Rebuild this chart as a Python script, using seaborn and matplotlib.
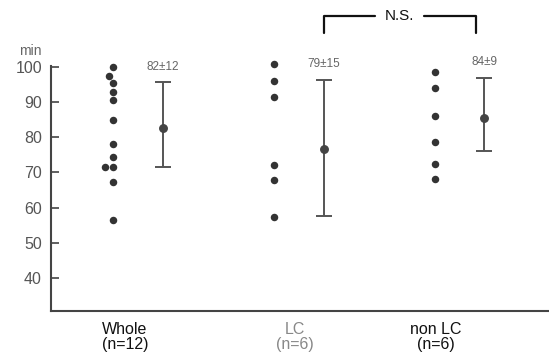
import numpy as np
import pandas as pd
import matplotlib
matplotlib.use("Agg")
import matplotlib.pyplot as plt
import seaborn as sns

# ---- data ----
groups = ["Whole", "LC", "non LC"]
group_labels = ["Whole\n(n=12)", "LC\n(n=6)", "non LC\n(n=6)"]
whole_vals = [100.0, 97.5, 95.6, 93.0, 90.8, 85.0, 78.0, 74.3, 71.6, 71.6, 67.3, 56.5]
lc_vals = [101.0, 96.2, 91.4, 72.0, 67.8, 57.2]
nonlc_vals = [98.6, 94.0, 86.0, 78.8, 72.5, 68.0]
means = [82.6, 76.7, 85.5]
err_low = [71.7, 57.5, 76.0]
err_high = [95.7, 96.5, 97.0]
summary_text = ["82\u00b112", "79\u00b115", "84\u00b19"]
y_ticks = [40, 50, 60, 70, 80, 90, 100]

df = pd.DataFrame({
    "group": ["Whole"] * len(whole_vals) + ["LC"] * len(lc_vals) + ["non LC"] * len(nonlc_vals),
    "minutes": whole_vals + lc_vals + nonlc_vals,
})

sns.set_style("ticks")
plt.rcParams["font.family"] = ["Liberation Sans", "DejaVu Sans"]

W, H = 549, 357
fig = plt.figure(figsize=(W / 100, H / 100), dpi=100)
ax = fig.add_axes([51 / W, 1 - 311 / H, (548 - 51) / W, (311 - 65.5) / H])

sns.swarmplot(data=df, x="group", y="minutes", order=groups, ax=ax,
              color="#333333", size=5.4, linewidth=0, clip_on=False)

off = 0.31
xpos = np.arange(len(groups)) + off
m = np.array(means)
yerr = [m - np.array(err_low), np.array(err_high) - m]
ax.errorbar(xpos, m, yerr=yerr, fmt="o", color="#444444", ecolor="#555555",
            markersize=5.4, elinewidth=1.4, capsize=6, capthick=1.4, clip_on=False)

for x, hi, t in zip(xpos, err_high, summary_text):
    ax.text(x, hi + 4.4, t, ha="center", va="center", fontsize=8.5, color="#666666")

ax.set_xlim(-0.385, 2.705)
ax.set_ylim(30.5, 100.5)
ax.set_yticks(y_ticks)
ax.set_yticklabels([str(v) for v in y_ticks])
ax.tick_params(axis="y", direction="in", length=6, width=1.2, colors="#444444",
               labelcolor="#555555", labelsize=11.5, pad=6.5)
ax.set_xticks(np.arange(len(groups)) + np.array([0.075, 0.13, 0.01]))
ax.set_xticklabels(group_labels, fontsize=11.5, linespacing=0.98)
ax.tick_params(axis="x", length=0, pad=8)
for lbl, c in zip(ax.get_xticklabels(), ["#111111", "#888888", "#111111"]):
    lbl.set_color(c)
ax.set_xlabel("")
ax.set_ylabel("")
for s in ["top", "right"]:
    ax.spines[s].set_visible(False)
for s in ["left", "bottom"]:
    ax.spines[s].set_linewidth(1.5)
    ax.spines[s].set_color("#444444")

fig.text(30 / W, 1 - 50.7 / H, "min", ha="center", va="center", fontsize=10, color="#666666")

# N.S. bracket between LC and non LC
x1, x2 = 1 + off, 2.255
ytop, ybot = 114.6, 109.8
xm = (x1 + x2) / 2
gap = 0.15
ax.plot([x1, x1, xm - gap], [ybot, ytop, ytop], color="#111111", lw=1.6, clip_on=False)
ax.plot([xm + gap, x2, x2], [ytop, ytop, ybot], color="#111111", lw=1.6, clip_on=False)
ax.text(xm, ytop, "N.S.", ha="center", va="center", fontsize=11, color="#111111")

fig.savefig("out.png", dpi=100)
